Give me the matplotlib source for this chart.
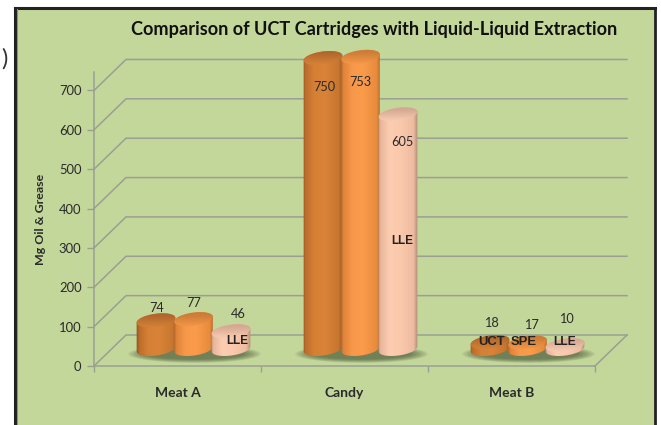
import numpy as np
import matplotlib
matplotlib.use("Agg")
import matplotlib.pyplot as plt
from matplotlib.patches import Rectangle, Polygon
from matplotlib.colors import LinearSegmentedColormap

categories = ["Meat A", "Candy", "Meat B"]
uct_values = [74, 750, 18]
spe_values = [77, 753, 17]
lle_values = [46, 605, 10]
y_ticks = [0, 100, 200, 300, 400, 500, 600, 700]
chart_title = "Comparison of UCT Cartridges with Liquid-Liquid Extraction"
y_title = "Mg Oil & Grease"

W, H = 661, 425
plt.rcParams["font.family"] = ["Lato", "DejaVu Sans"]
fig = plt.figure(figsize=(W / 100, H / 100), dpi=100, facecolor="white")

PANEL = "#C4D79B"
GRID = "#9A9F92"
TXT = "#2A2A2A"
fig.add_artist(Rectangle((15 / W, 0), 640 / W, 1 - 8 / H, transform=fig.transFigure,
                         facecolor=PANEL, edgecolor="none", zorder=0))
for (x0, y0, x1, y1, c, lw) in [(15, 8, 15, 425, "#222222", 2.2), (15, 8, 655, 8, "#222222", 2.2),
                                (655, 8, 655, 425, "#222222", 2.0), (17, 9, 17, 425, "#8A8F80", 0.8)]:
    fig.add_artist(plt.Line2D([x0 / W, x1 / W], [1 - y0 / H, 1 - y1 / H], color=c, lw=lw, zorder=1))

L, R, FLOOR, TOP = 94, 595, 366, 72
ax = fig.add_axes([L / W, 1 - FLOOR / H, (R - L) / W, (FLOOR - TOP) / H])
SY = 0.3936
SX = (R - L) / 3
BAR_SY = 0.388  # bars stand behind the front plane, so their scale is a little smaller
ax.set_xlim(0, 3)
ax.set_ylim(0, (FLOOR - TOP) / SY)
ax.patch.set_alpha(0)
for s in ("top", "right"):
    ax.spines[s].set_visible(False)
for s in ("left", "bottom"):
    ax.spines[s].set_color(GRID)
    ax.spines[s].set_linewidth(1.1)

ax.set_yticks(y_ticks)
ax.tick_params(axis="y", length=5, width=1.0, color=GRID, labelsize=9.4, labelcolor=TXT, pad=4)
ax.set_xticks(range(4))
ax.set_xticklabels([])
ax.tick_params(axis="x", which="major", length=4, width=1.0, color=GRID)
ax.set_xticks([i + 0.5 for i in range(3)], minor=True)
ax.set_xticklabels(categories, minor=True, fontsize=10, fontweight="bold", color=TXT)
ax.tick_params(axis="x", which="minor", length=0, pad=15)

DX, DY = 32 / SX, 31 / SY
for v in y_ticks:
    ax.plot([0, DX, 3 + DX], [v, v + DY, v + DY], color=GRID, lw=1.1, clip_on=False, zorder=1,
            solid_joinstyle="miter")
ax.plot([3, 3 + DX], [0, DY], color=GRID, lw=1.1, clip_on=False, zorder=1)


def ell(cx_px, cy_px, a, b, t, th=np.radians(8)):
    return (cx_px + a * np.cos(t) * np.cos(th) - b * np.sin(t) * np.sin(th),
            cy_px + a * np.cos(t) * np.sin(th) + b * np.sin(t) * np.cos(th))


def to_data(px, py):
    return np.column_stack([np.asarray(px) / SX, np.asarray(py) / SY])


# soft floor shadows
for i in range(3):
    cx = (i + 0.5) * SX + 17
    for k in range(24):
        f = k / 23
        a, b = 67 - 19 * f, 9 - 4 * f
        pts = to_data(*ell(cx, 12, a, b, np.linspace(0, 2 * np.pi, 80), th=0))
        ax.add_patch(Polygon(pts, closed=True, fc="#48573A", ec="none", alpha=0.04, zorder=2, clip_on=False))

stops = [0, 0.08, 0.3, 0.55, 0.9, 1]
palettes = [
    (["#8F5020", "#BD6E2B", "#D68036", "#D98338", "#C8762F", "#9A5A26"], ["#A6602A", "#B56B2E", "#C87833", "#D98538"]),
    (["#A8622A", "#E0843A", "#F8984A", "#FA9C4C", "#E88B3C", "#B0692C"], ["#C47632", "#D0803A", "#E48C40", "#F89A4A"]),
    (["#A58474", "#E8B69C", "#FDCDB2", "#FBC9AC", "#EEBBA0", "#AE8C7A"], ["#CDA18C", "#D9AD96", "#EDBFA7", "#FCD2BA"]),
]
A, B = 19.5, 6.5
BASE = 17
T = np.linspace(0, 2 * np.pi, 120)


def cylinder(cx, v, pal, z):
    cy_top = BASE + v * BAR_SY
    th = np.radians(8)
    t0 = np.arctan2(-B * np.sin(th), A * np.cos(th))
    low = np.linspace(np.pi + t0, 2 * np.pi + t0, 60)
    up = np.linspace(t0, np.pi + t0, 60)
    bx, by = ell(cx, BASE, A, B, low)
    tx, ty = ell(cx, cy_top, A, B, up)
    body = Polygon(to_data(np.r_[bx, tx], np.r_[by, ty]), closed=True, fc="none", ec="none",
                   zorder=z, clip_on=False)
    ax.add_patch(body)
    cm_b = LinearSegmentedColormap.from_list("b", list(zip(stops, pal[0])))
    ext = ((cx - A - 1) / SX, (cx + A + 1) / SX, (BASE - 10) / SY, (cy_top + 10) / SY)
    im = ax.imshow(np.linspace(0, 1, 64)[None, :], cmap=cm_b, extent=ext, aspect="auto", zorder=z,
                   interpolation="bilinear")
    im.set_clip_box(fig.bbox)
    im.set_clip_path(body)
    ex, ey = ell(cx, cy_top, A, B, T)
    cap = Polygon(to_data(ex, ey), closed=True, fc="none", ec="none", zorder=z + 0.1, clip_on=False)
    ax.add_patch(cap)
    cm_t = LinearSegmentedColormap.from_list("t", pal[1])
    ext = ((cx - A - 1) / SX, (cx + A + 1) / SX, (cy_top - B - 2) / SY, (cy_top + B + 3) / SY)
    im2 = ax.imshow(np.linspace(1, 0, 32)[:, None], cmap=cm_t, extent=ext, aspect="auto", zorder=z + 0.1,
                    origin="lower", interpolation="bilinear", vmin=0, vmax=1)
    im2.set_clip_box(fig.bbox)
    im2.set_clip_path(cap)


spacing = 37.5
z = 3
all_vals = (uct_values, spe_values, lle_values)
for i in range(3):
    cc = (i + 0.5) * SX + 16
    for j, vals in enumerate(all_vals):
        cylinder(cc + (j - 1) * spacing, vals[i], palettes[j], z)
        z += 1
ax.set_xlim(0, 3)
ax.set_ylim(0, (FLOOR - TOP) / SY)

# value labels, offset in px from the top centre of each cylinder
value_dy = [[12, 16, 17], [-29, -25, -28], [19, 17, 26]]
value_dx = [[1, 0, 7], [1, 0, 4], [1, 4, 1]]
for i in range(3):
    cc = (i + 0.5) * SX + 16
    for j, vals in enumerate(all_vals):
        ax.annotate(str(vals[i]), ((cc + (j - 1) * spacing) / SX, (BASE + vals[i] * BAR_SY) / SY),
                    xytext=(value_dx[i][j], value_dy[i][j]), textcoords="offset pixels",
                    ha="center", va="center", fontsize=9.2, color=TXT, zorder=40, annotation_clip=False)

inner = [("LLE", 0, 2, 6, -10, 8.4), ("LLE", 1, 2, 4, -127, 8.4), ("UCT", 2, 0, 2, 0, 9.4),
         ("SPE", 2, 1, -4, 0, 9.4), ("LLE", 2, 2, 0, 3, 8.7)]
for s, i, j, dx, dy, fs in inner:
    v = all_vals[j][i]
    ax.annotate(s, (((i + 0.5) * SX + 16 + (j - 1) * spacing) / SX, (BASE + v * BAR_SY) / SY),
                xytext=(dx, dy), textcoords="offset pixels", ha="center", va="center",
                fontsize=fs, fontweight="bold", color="#222222", family="Liberation Sans",
                zorder=41, annotation_clip=False)

fig.text(374 / W, 1 - 29 / H, chart_title, ha="center", va="center", fontsize=13.1, fontweight="bold", color="#111111")
fig.text(41 / W, 1 - 219 / H, y_title, ha="center", va="center", rotation=90, fontsize=8.9, fontweight="bold", color=TXT)
fig.text(4.5 / W, 1 - 59 / H, ")", ha="center", va="center", fontsize=17, color="#333333")

fig.savefig("out.png", dpi=100)
